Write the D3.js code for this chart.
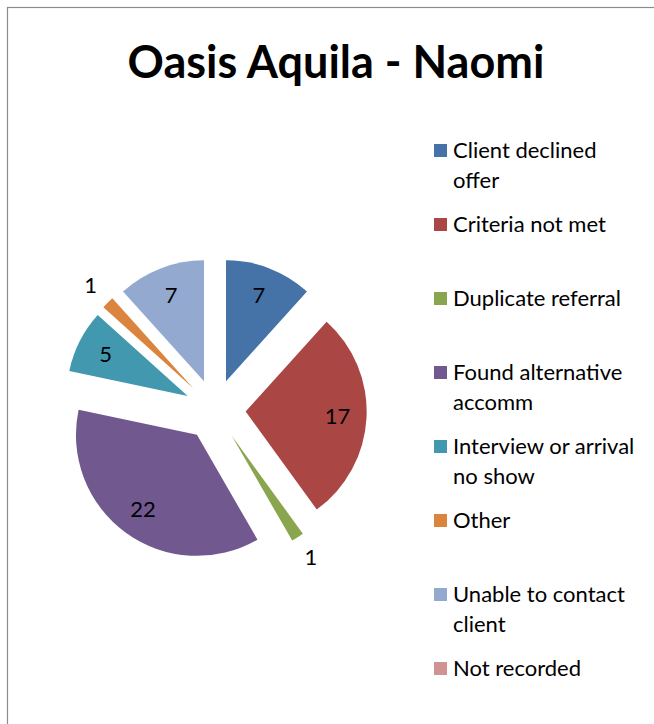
<!DOCTYPE html>
<html><head><meta charset="utf-8">
<script src="https://cdn.jsdelivr.net/npm/d3@7"></script>
<style>body{margin:0;background:#fff}svg{display:block}</style>
</head><body>
<svg id="c" width="654" height="724"></svg>
<script>
const categories = ["Client declined offer","Criteria not met","Duplicate referral","Found alternative accomm","Interview or arrival no show","Other","Unable to contact client","Not recorded"];
const legendLines = [["Client declined","offer"],["Criteria not met"],["Duplicate referral"],["Found alternative","accomm"],["Interview or arrival","no show"],["Other"],["Unable to contact","client"],["Not recorded"]];
const values = [7,17,1,22,5,1,7,0];
const colors = ["#4572A7","#AA4643","#89A54E","#71588F","#4198AF","#DB843D","#93A9CF","#D19392"];
const title = "Oasis Aquila - Naomi";

const svg = d3.select("#c");
const font = "Lato, 'Open Sans', sans-serif";
svg.append("rect").attr("x",7.5).attr("y",7.5).attr("width",660).attr("height",730)
  .attr("fill","#fff").attr("stroke","#8c8c8c").attr("stroke-width",1.2);

svg.append("text").attr("x",336).attr("y",78).attr("text-anchor","middle")
  .attr("font-family",font).attr("font-weight","bold").attr("font-size",45)
  .attr("fill","#000").text(title);

const cx = 215, cy = 410, r = 121, explode = 30.7;
const total = d3.sum(values);
const pie = d3.pie().sort(null).value(d=>d).startAngle(0).endAngle(2*Math.PI);
const arcs = pie(values);
const arc = d3.arc().innerRadius(0).outerRadius(r);
const g = svg.append("g").attr("transform",`translate(${cx},${cy})`);
arcs.forEach((a,i)=>{
  const mid = (a.startAngle+a.endAngle)/2;
  const dx = explode*Math.sin(mid), dy = -explode*Math.cos(mid);
  const sg = g.append("g").attr("transform",`translate(${dx},${dy})`);
  if (a.value>0) sg.append("path").attr("d",arc(a)).attr("fill",colors[i]);
  if (a.value>0) {
    const outside = a.value/total < 0.05;
    const lr = outside ? r*1.2 : r*0.76;
    sg.append("text").attr("x",lr*Math.sin(mid)).attr("y",-lr*Math.cos(mid))
      .attr("dy","0.35em").attr("text-anchor","middle")
      .attr("font-family",font).attr("font-size",22).attr("fill","#000").text(a.value);
  }
});

const ly = d3.scalePoint().domain(categories).range([150,668]);
const lg = svg.append("g");
categories.forEach((c,i)=>{
  const y = ly(c);
  lg.append("rect").attr("x",434).attr("y",y-6).attr("width",13).attr("height",13).attr("fill",colors[i]);
  legendLines[i].forEach((t,j)=>{
    lg.append("text").attr("x",453).attr("y",y+30*j).attr("dy","0.35em")
      .attr("font-family",font).attr("font-size",22).attr("fill","#000").text(t);
  });
});
</script>
</body></html>
